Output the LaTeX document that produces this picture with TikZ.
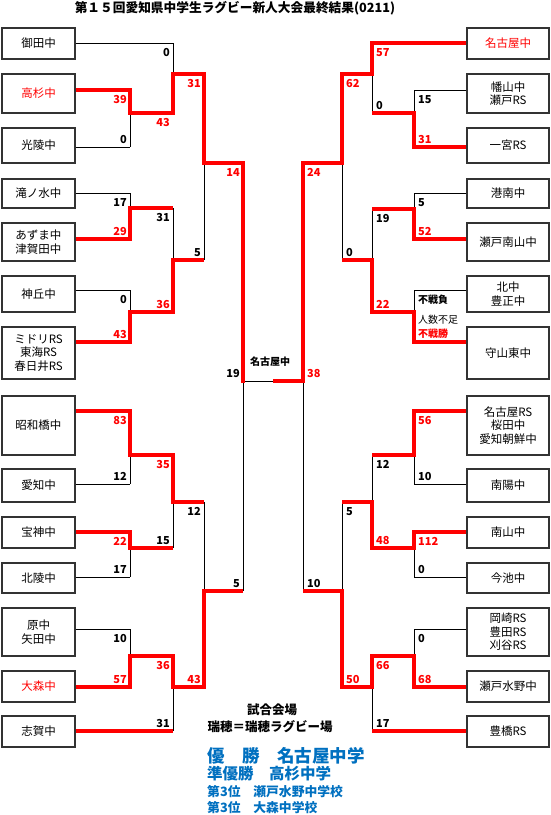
\documentclass[tikz,border=0pt]{standalone}
\usepackage{fontspec}
\setmainfont{Noto Sans CJK JP}
\usetikzlibrary{calc}

\definecolor{winred}{RGB}{255,0,0}
\definecolor{resblue}{RGB}{0,112,192}

\tikzset{
    lbox/.style={draw=black!80, line width=1.1pt, fill=white, minimum width=73,
        inner sep=0pt, align=center, font=\fontsize{11.5}{13.5}\selectfont},
    rbox/.style={lbox, minimum width=82},
    wire/.style={line width=0.9pt, black},
    win/.style={line width=3.6pt, winred},
    winv/.style={win, line cap=rect},
    score/.style={inner sep=0pt, font=\fontsize{11}{13}\selectfont\bfseries},
    result/.style={inner sep=0pt, anchor=west, text=resblue},
}

\begin{document}
\begin{tikzpicture}[x=1pt, y=-1pt]
        \path[fill=white] (0,0) rectangle (550,815);
        \useasboundingbox (0,0) rectangle (550,815);

        % Title
        \node[font=\fontsize{12.7}{14}\selectfont\bfseries] (title) at (235,8)
            {第１５回愛知県中学生ラグビー新人大会最終結果(0211)};

        % Teams, left column: {name}{centre}{height}{colour}{text}
        \foreach \nm/\yc/\hh/\tc/\txt in {
            ota/43.5/31/black/御田中,
            takasugi/93.5/39/winred/高杉中,
            koryo/145.5/35/black/光陵中,
            takinomizu/193.5/29/black/滝ノ水中,
            azuma/242/38/black/あずま中\\津賀田中,
            kamioka/294/36/black/神丘中,
            midori/353/52/black/ミドリRS\\東海RS\\春日井RS,
            showabashi/425.5/59/black/昭和橋中,
            aichi/485.5/33/black/愛知中,
            hojin/532.5/31/black/宝神中,
            hokuryo/578/30/black/北陵中,
            hara/632/48/black/原中\\矢田中,
            omori/686.5/31/winred/大森中,
            shiga/731.5/31/black/志賀中} {
            \node[lbox, minimum height=\hh, text=\tc] (\nm) at (38.5,\yc) {\txt};
        }

        % Teams, right column
        \foreach \nm/\yc/\hh/\tc/\txt in {
            nagoya/43.5/31/winred/名古屋中,
            hatayama/93.5/39/black/幡山中\\瀬戸RS,
            ichinomiya/145.5/35/black/一宮RS,
            konan/193.5/29/black/港南中,
            minamiyama/242/38/black/瀬戸南山中,
            kita/294/36/black/北中\\豊正中,
            moriyama/353/52/black/守山東中,
            nagoyars/425.5/59/black/名古屋RS\\桜田中\\愛知朝鮮中,
            nanyo/485.5/33/black/南陽中,
            nanzan/532.5/31/black/南山中,
            imaike/578/30/black/今池中,
            okazaki/632/48/black/岡崎RS\\豊田RS\\刈谷RS,
            mizuno/686.5/31/black/瀬戸水野中,
            toyohashi/731.5/31/black/豊橋RS} {
            \node[rbox, minimum height=\hh, text=\tc] (\nm) at (508,\yc) {\txt};
        }

        % Matches: {name}{x}{top}{bottom}{junction}
        \foreach \m/\xx/\yt/\yb/\yj in {
            la/130/90/147/113, lb/173/43/113/74, lc/130/193/239/208,
            ld/130/290/342/312, le/173/208/312/260, lf/204/74/260/163,
            lg/130/411/484/455, lh/130/532/577/548, li/173/455/548/502,
            lj/130/629/687/656, lk/173/656/731/687, ll/204/502/687/591,
            ls/243/163/591/381,
            ra/414/90/147/113, rb/372/43/113/74, rc/414/193/239/209,
            rd/414/290/342/312, re/372/209/312/260, rf/342/74/260/163,
            rg/414/411/484/455, rh/414/532/577/548, ri/372/455/548/502,
            rj/414/629/687/656, rk/372/656/731/687, rl/342/502/687/591,
            rs/303/163/591/381} {
            \coordinate (\m-t) at (\xx,\yt);
            \coordinate (\m-b) at (\xx,\yb);
            \coordinate (\m-j) at (\xx,\yj);
            \draw[wire] (\m-t) -- (\m-b);
        }

        % Final
        \coordinate (final) at ($(ls-j)!0.5!(rs-j)$);
        \draw[wire] (ls-j) -- (rs-j);

        % Lines out of the boxes
        \foreach \bx/\pt/\st in {
            ota/lb-t/wire, takasugi/la-t/win, koryo/la-b/wire,
            takinomizu/lc-t/wire, azuma/lc-b/win, kamioka/ld-t/wire,
            midori/ld-b/win, showabashi/lg-t/win, aichi/lg-b/wire,
            hojin/lh-t/win, hokuryo/lh-b/wire, hara/lj-t/wire,
            omori/lj-b/win, shiga/lk-b/win} {
            \draw[\st] (\bx.east |- \pt) -- (\pt);
        }
        \foreach \bx/\pt/\st in {
            nagoya/rb-t/win, hatayama/ra-t/wire, ichinomiya/ra-b/win,
            konan/rc-t/wire, minamiyama/rc-b/win, kita/rd-t/wire,
            moriyama/rd-b/win, nagoyars/rg-t/win, nanyo/rg-b/wire,
            nanzan/rh-t/win, imaike/rh-b/wire, okazaki/rj-t/wire,
            mizuno/rj-b/win, toyohashi/rk-b/win} {
            \draw[\st] (\bx.west |- \pt) -- (\pt);
        }

        % Winners move on
        \foreach \pa/\pb in {
            la-j/lb-b, lb-j/lf-t, lc-j/le-t, ld-j/le-b, le-j/lf-b, lf-j/ls-t,
            lg-j/li-t, lh-j/li-b, li-j/ll-t, lj-j/lk-t, lk-j/ll-b, ll-j/ls-b,
            ra-j/rb-b, rb-j/rf-t, rc-j/re-t, rd-j/re-b, re-j/rf-b, rf-j/rs-t,
            rg-j/ri-t, rh-j/ri-b, ri-j/rl-t, rj-j/rk-t, rk-j/rl-b, rl-j/rs-b} {
            \draw[win] (\pa) -- (\pb);
        }
        \foreach \m/\w in {
            la/t, lb/b, lc/b, ld/b, le/b, lf/t, lg/t, lh/t, li/t, lj/b, lk/t, ll/b, ls/t,
            ra/b, rb/t, rc/b, rd/b, re/b, rf/t, rg/t, rh/t, ri/b, rj/b, rk/t, rl/b, rs/t} {
            \draw[winv] (\m-\w) -- (\m-j);
        }
        \draw[win] (final) -- (rs-j);

        % Scores
        \foreach \p/\s/\c in {
            la-t/39/winred, lb-t/0/black, lb-b/43/winred, lc-t/17/black,
            ld-t/0/black, le-t/31/black, lf-t/31/winred, lg-t/83/winred,
            lh-t/22/winred, li-t/35/winred, lj-t/10/black, lk-t/36/winred,
            ll-t/12/black, ls-t/14/winred} {
            \node[score, text=\c, anchor=north east] (s-\p) at ([shift={(-3pt,-5pt)}]\p) {\s};
        }
        \foreach \p/\s/\c in {
            la-b/0/black, lc-b/29/winred, ld-b/43/winred, le-b/36/winred,
            lf-b/5/black, lg-b/12/black, lh-b/17/black, li-b/15/black,
            lj-b/57/winred, lk-b/31/black, ll-b/43/winred, ls-b/5/black,
            ls-j/19/black} {
            \node[score, text=\c, anchor=south east] (s-\p) at ([shift={(-3pt,3pt)}]\p) {\s};
        }
        \foreach \p/\s/\c in {
            ra-t/15/black, rb-t/57/winred, rc-t/5/black,
            rd-t/{\fontsize{10}{12}\selectfont 不戦負}/black,
            re-t/19/black, rf-t/62/winred, rg-t/56/winred, rh-t/112/winred,
            ri-t/12/black, rj-t/0/black, rk-t/66/winred, rl-t/5/black,
            rs-t/24/winred} {
            \node[score, text=\c, anchor=north west] (s-\p) at ([shift={(4pt,-5pt)}]\p) {\s};
        }
        \foreach \p/\s/\c in {
            ra-b/31/winred, rb-b/0/black, rc-b/52/winred,
            rd-b/{\fontsize{10}{12}\selectfont 不戦勝}/winred,
            re-b/22/winred, rf-b/0/black, rg-b/10/black, rh-b/0/black,
            ri-b/48/winred, rj-b/68/winred, rk-b/17/black, rl-b/50/winred,
            rs-b/10/black, rs-j/38/winred} {
            \node[score, text=\c, anchor=south west] (s-\p) at ([shift={(4pt,3pt)}]\p) {\s};
        }
        \node[inner sep=0pt, anchor=west, font=\fontsize{10}{12}\selectfont] (ninzu) at (418,320) {人数不足};
        \node[font=\fontsize{10}{12}\selectfont\bfseries] (champ) at (270,362) {名古屋中};

        % Venue and results
        \node[font=\fontsize{12.5}{14}\selectfont\bfseries] (venue) at (272,710) {試合会場};
        \node[font=\fontsize{12.5}{14}\selectfont\bfseries] (ground) at (270,727) {瑞穂＝瑞穂ラグビー場};
        \node[result, font=\fontsize{17.5}{20}\selectfont\bfseries] (first) at (207,756) {優　勝　名古屋中学};
        \node[result, font=\fontsize{15.5}{18}\selectfont\bfseries] (second) at (207,774) {準優勝　高杉中学};
        \node[result, font=\fontsize{12.8}{15}\selectfont\bfseries] (third) at (207,792) {第3位　瀬戸水野中学校};
        \node[result, font=\fontsize{12.8}{15}\selectfont\bfseries] (fourth) at (207,808) {第3位　大森中学校};
\end{tikzpicture}
\end{document}
